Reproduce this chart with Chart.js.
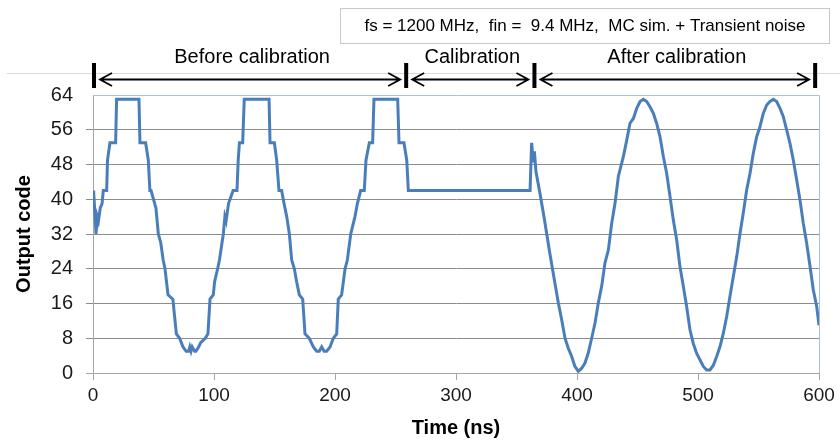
<!DOCTYPE html>
<html>
<head>
<meta charset="utf-8">
<script src="https://cdn.jsdelivr.net/npm/chart.js@4/dist/chart.umd.min.js"></script>
<style>
  html, body { margin: 0; padding: 0; background: #ffffff; }
  #wrap { width: 840px; height: 443px; position: relative; }
</style>
</head>
<body>
<div id="wrap"><canvas id="c" width="840" height="443"></canvas></div>
<script>
// ---- Data ----
const timeNs = [
  0.5, 2.5, 3.5, 4.5, 6, 7.5, 8.5, 11.3, 12, 14, 18.7, 19.5, 38, 38.8, 43.5, 45.7, 47, 48, 51, 52, 54, 56, 58, 59.5, 62, 66, 68.9, 71.6, 73, 74.4, 77, 79, 80, 81, 82, 84, 85, 87.3, 89, 92.8, 95, 96.7, 99.4, 100.5, 103, 104.5, 107.7, 109, 110, 112, 115.8, 119, 120, 121, 123.7, 125,
  145.5, 146.3, 149.9, 151.8, 153.7, 155.9, 157.9, 160.1, 162.3, 164.2, 166.4, 168.3, 170.5, 173.3, 175.2, 178.8, 182.1, 184.9, 187, 189, 191, 193.1, 195.9, 198.6, 201.4, 202.7, 205.5, 208.3, 210.2, 213, 216.5, 218.5, 221.2, 224.2, 225.6, 228.4, 231.1, 232.2, 251.8, 252.9, 257, 259.3, 260.6,
  361.2, 362.5, 363.9, 364.8, 366.1, 369.4, 372.7, 375, 377.1, 379.9, 381.8, 384.6, 387.3, 390.1, 392.8, 395.6, 398.3, 401.1, 403.9, 406.6, 409.3, 412.1, 414.9, 417.6, 420.4, 423.1, 425.9, 428.7, 431.4, 434.2,
  438.3, 441.1, 443.8, 446.6, 449.3, 452.1, 454.8, 457.6, 460.3, 463.1, 465.8, 468.6, 471.4, 474.1, 476.9, 479.6, 482.4, 485.1, 487.9, 490.6, 493.4, 496.1, 498.9, 501.7, 504.4, 507.2, 509.9, 512.7, 515.4, 518.2, 520.9, 523.7, 526.4, 529.2, 532, 534.7, 537.4, 540.2, 543, 545.7, 548.5, 551.2, 554, 556.8, 559.5, 562.2, 565, 567.8, 570.5, 573.3, 576, 578.8, 581.6, 584.3, 587, 589.8, 592.6, 595.3, 598.1, 600
];
const outputCode = [
  42, 32, 36, 35, 38, 39, 42, 42, 49, 53, 53, 63, 63, 53, 53, 49, 42, 42, 39, 38, 32, 30, 26, 24, 18, 17, 9, 8, 7, 6, 5, 5, 6, 5, 6, 5, 5, 6, 7, 8, 9, 17, 18, 21, 24, 26, 32, 36, 35, 39, 42, 42, 49, 53, 53, 63,
  63, 53, 53, 49, 42, 42, 39, 36, 32, 26, 24, 21, 18, 17, 9, 8, 6, 5, 5, 6, 5, 5, 6, 8, 9, 17, 18, 24, 26, 32, 36, 39, 42, 42, 49, 53, 53, 63, 63, 53, 53, 49, 42,
  42, 53, 48.5, 51, 46.3, 41.3, 36, 32, 28.3, 23.7, 20.6, 16.1, 12.3, 8, 5.7, 3.8, 1.5, 0.4, 1.1, 2.3, 4.6, 8, 11.5, 16.1, 20, 25.3, 28.3, 34.5, 39, 45.3,
  49.8, 53.6, 57.5, 58.6, 60.9, 62.5, 63, 62.5, 61.3, 59.8, 57.5, 54.4, 49.8, 46, 40.6, 35.2, 30.6, 24.5, 19.9, 15.3, 9.9, 6.8, 4.5, 3, 1.5, 0.7, 0.7, 1.8, 3.8, 6.1, 9.1, 13, 17.6, 22.2, 26.8, 32.1, 36.8, 42.1, 46, 50.6, 54.4, 56.7, 59.8, 61.7, 62.5, 63, 62.5, 60.9, 59, 55.9, 52.9, 49, 44.4, 39.8, 34.5, 29.9, 24.5, 19.1, 15.3, 11
];
const yTicks = [0, 8, 16, 24, 32, 40, 48, 56, 64];
const xTicks = [0, 100, 200, 300, 400, 500, 600];
const phaseBounds = [0, 258, 364, 596];
const phaseLabels = ['Before calibration', 'Calibration', 'After calibration'];
const noteText = 'fs = 1200 MHz,  fin =  9.4 MHz,  MC sim. + Transient noise';
const xTitle = 'Time (ns)';
const yTitle = 'Output code';

const FONT = '"Liberation Sans", Arial, sans-serif';
const points = timeNs.map((t, i) => ({ x: t, y: outputCode[i] }));

const annotations = {
  id: 'annotations',
  beforeDraw(chart) {
    const ctx = chart.ctx;
    ctx.save();
    // faint frame line
    ctx.strokeStyle = '#d9d9d9';
    ctx.lineWidth = 1;
    ctx.beginPath();
    ctx.moveTo(7, 73.5);
    ctx.lineTo(840, 73.5);
    ctx.stroke();
    ctx.restore();
  },
  afterDraw(chart) {
    const ctx = chart.ctx;
    const xs = chart.scales.x;
    const ca = chart.chartArea;
    ctx.save();
    // plot area border top & right (light blue)
    ctx.strokeStyle = '#a7c0de';
    ctx.lineWidth = 1;
    ctx.beginPath();
    ctx.moveTo(ca.left, ca.top + 0.5);
    ctx.lineTo(ca.right + 0.5, ca.top + 0.5);
    ctx.lineTo(ca.right + 0.5, ca.bottom);
    ctx.stroke();

    // note box
    ctx.fillStyle = '#ffffff';
    ctx.fillRect(340, 8, 489, 35);
    ctx.strokeStyle = '#c8c8c8';
    ctx.strokeRect(340.5, 8.5, 489, 35);
    ctx.fillStyle = '#000000';
    ctx.font = '17px ' + FONT;
    ctx.textAlign = 'center';
    ctx.textBaseline = 'middle';
    ctx.fillText(noteText, 585, 26);

    // phase markers
    const px = phaseBounds.map(v => xs.getPixelForValue(v) + 1);
    ctx.strokeStyle = '#000000';
    ctx.lineWidth = 4;
    px.forEach(p => {
      ctx.beginPath();
      ctx.moveTo(p, 63);
      ctx.lineTo(p, 88);
      ctx.stroke();
    });
    const ay = 79.5;
    ctx.lineWidth = 1.8;
    for (let i = 0; i < phaseLabels.length; i++) {
      const a = px[i] + 6, b = px[i + 1] - 6;
      ctx.beginPath();
      ctx.moveTo(a, ay); ctx.lineTo(b, ay);
      ctx.moveTo(a + 12, ay - 6.5); ctx.lineTo(a, ay); ctx.lineTo(a + 12, ay + 6.5);
      ctx.moveTo(b - 12, ay - 6.5); ctx.lineTo(b, ay); ctx.lineTo(b - 12, ay + 6.5);
      ctx.stroke();
      ctx.font = '20px ' + FONT;
      ctx.fillStyle = '#000000';
      ctx.textAlign = 'center';
      ctx.textBaseline = 'middle';
      ctx.fillText(phaseLabels[i], (px[i] + px[i + 1]) / 2 + 2, 57);
    }
    ctx.restore();
  }
};

new Chart(document.getElementById('c'), {
  type: 'line',
  data: {
    datasets: [{
      data: points,
      borderColor: '#4a7ebb',
      borderWidth: 3,
      pointRadius: 0,
      tension: 0,
      fill: false
    }]
  },
  options: {
    responsive: false,
    animation: false,
    devicePixelRatio: 1,
    layout: { padding: { top: 95, right: 21, left: 0, bottom: 0 } },
    plugins: { legend: { display: false }, tooltip: { enabled: false } },
    scales: {
      x: {
        type: 'linear',
        min: 0, max: 600,
        afterBuildTicks: s => { s.ticks = xTicks.map(v => ({ value: v })); },
        afterFit: s => { s.height = 70; },
        ticks: { color: '#1a1a1a', font: { family: FONT, size: 19 }, padding: 4, maxRotation: 0 },
        grid: { drawOnChartArea: false, drawTicks: true, tickLength: 7, color: '#a6a6a6' },
        border: { color: '#a6a6a6', width: 1 },
        title: { display: true, text: xTitle, color: '#000000', font: { family: FONT, size: 20, weight: 'bold' }, padding: { top: 0, bottom: 3 } }
      },
      y: {
        type: 'linear',
        min: 0, max: 64,
        afterBuildTicks: s => { s.ticks = yTicks.map(v => ({ value: v })); },
        afterFit: s => { s.width = 93; },
        ticks: { color: '#1a1a1a', font: { family: FONT, size: 20 }, padding: 13 },
        grid: {
          drawTicks: true, tickLength: 7,
          color: ctx => (ctx.tick && ctx.tick.value === 64) ? 'rgba(0,0,0,0)' : (ctx.tick && ctx.tick.value === 0 ? '#a6a6a6' : '#8c8c8c'),
          lineWidth: 1
        },
        border: { color: '#a6a6a6', width: 1 },
        title: { display: true, text: yTitle, color: '#000000', font: { family: FONT, size: 20, weight: 'bold' }, padding: { top: 12, bottom: 0 } }
      }
    }
  },
  plugins: [annotations]
});
</script>
</body>
</html>
